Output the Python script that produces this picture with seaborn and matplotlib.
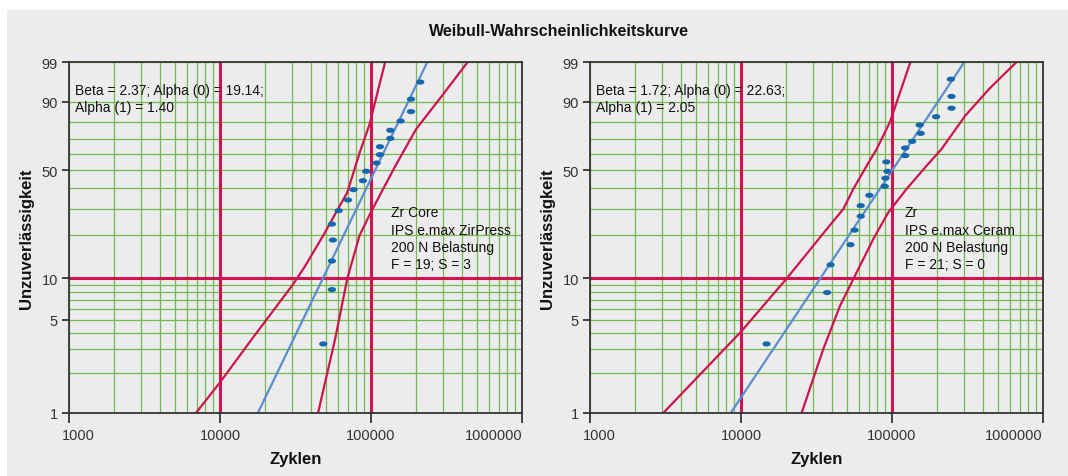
import numpy as np
import matplotlib
matplotlib.use('Agg')
import matplotlib.pyplot as plt
import seaborn as sns
from matplotlib.path import Path
from matplotlib.patches import Rectangle
from matplotlib.ticker import FixedLocator, NullFormatter
from matplotlib.transforms import ScaledTranslation

sns.set_style('white')
plt.rcParams['font.family'] = ['Liberation Sans', 'DejaVu Sans']

BG = '#ebeceb'
GREEN = '#74b94f'
RED = '#cc1450'
BLUE = '#5b8dd2'
DOT = '#1668ad'
DARK = '#333333'

TITLE = 'Weibull-Wahrscheinlichkeitskurve'
X_LABEL = 'Zyklen'
Y_LABEL = 'Unzuverlässigkeit'

X_MAJOR = [1000, 10000, 100000, 1000000]
X_MAJOR_LABELS = ['1000', '10000', '100000', '1000000']
Y_MAJOR = [1, 5, 10, 50, 90, 99]
Y_MINOR = [2, 3, 4, 6, 7, 8, 9, 20, 30, 40, 60, 70, 80]

# left panel: Zr Core, IPS e.max ZirPress
left_beta = 2.37
left_eta = 124000
left_cycles = [211800, 184000, 184000, 157000, 134200, 134200, 114600, 114600, 108800, 93000,
               88400, 76600, 70400, 61100, 55100, 55900, 55100, 55100, 48300]
left_pct = [96.1, 91.0, 85.6, 80.7, 75.3, 70.3, 65.0, 59.9, 54.6, 49.5,
            44.0, 39.1, 33.9, 29.1, 23.8, 18.6, 13.3, 8.3, 3.3]
left_band_a_x = [6930, 10000, 16900, 30100, 36200, 48300, 69700, 84000, 98000, 110500, 124100]
left_band_a_pct = [1, 1.7, 3.8, 8.9, 12, 20, 37.7, 61, 79, 93.4, 99]
left_band_b_x = [44600, 57900, 69700, 84000, 100000, 114000, 145200, 199000, 295000, 437000]
left_band_b_pct = [1, 3.6, 10, 20, 28.5, 36, 52.9, 76, 92.2, 99]
left_stats = 'Beta = 2.37; Alpha (0) = 19.14;\nAlpha (1) = 1.40'
left_info = 'Zr Core\nIPS e.max ZirPress\n200 N Belastung\nF = 19; S = 3'

# right panel: Zr, IPS e.max Ceram
right_beta = 1.72
right_eta = 124000
right_cycles = [245200, 247900, 247900, 195900, 152400, 154900, 135900, 122300, 122300, 91800,
                93300, 90400, 89500, 70800, 62100, 62100, 56500, 53100, 39200, 37200, 14760]
right_pct = [96.7, 92.0, 87.2, 83.0, 78.4, 73.4, 68.4, 64.2, 59.3, 55.3,
             49.5, 45.4, 40.9, 36.2, 31.3, 26.8, 21.7, 17.3, 12.5, 7.9, 3.3]
right_band_a_x = [3055, 10000, 20100, 36900, 47600, 55500, 68000, 79300, 96800, 113200, 132400]
right_band_a_pct = [1, 4.07, 10, 22.0, 29.8, 39.5, 52.9, 63.6, 80, 93.4, 99]
right_band_b_x = [25200, 35100, 45300, 58400, 75200, 94600, 125000, 169500, 213300, 305300, 440600, 668000]
right_band_b_pct = [1, 3.03, 6.33, 11.07, 18.9, 28.4, 39.5, 52.9, 63.6, 83.5, 94.4, 99]
right_stats = 'Beta = 1.72; Alpha (0) = 22.63;\nAlpha (1) = 2.05'
right_info = 'Zr\nIPS e.max Ceram\n200 N Belastung\nF = 21; S = 0'


def weib_fwd(p):
    p = np.clip(np.asarray(p, dtype=float) / 100.0, 1e-9, 1 - 1e-9)
    return np.log(-np.log(1 - p))


def weib_inv(w):
    return 100.0 * (1 - np.exp(-np.exp(np.asarray(w, dtype=float))))


def fit_line(beta, eta, pct=(1, 99)):
    p = np.asarray(pct, dtype=float) / 100.0
    return eta * (-np.log(1 - p)) ** (1.0 / beta), np.asarray(pct, dtype=float)


t = np.linspace(0, 2 * np.pi, 41)
DOT_MARKER = Path(np.column_stack([np.cos(t), 0.62 * np.sin(t)]), closed=True)


def draw_panel(ax, beta, eta, cycles, pct, a_x, a_pct, b_x, b_pct, stats, info, info_x):
    ax.set_facecolor(BG)
    ax.set_xscale('log')
    ax.set_yscale('function', functions=(weib_fwd, weib_inv))

    fx, fy = fit_line(beta, eta)
    sns.lineplot(x=a_x, y=a_pct, sort=False, estimator=None, color=RED, lw=1.6, ax=ax, zorder=4)
    sns.lineplot(x=b_x, y=b_pct, sort=False, estimator=None, color=RED, lw=1.6, ax=ax, zorder=4)
    sns.lineplot(x=fx, y=fy, sort=False, estimator=None, color=BLUE, lw=1.6, ax=ax, zorder=4)
    sns.scatterplot(x=cycles, y=pct, marker=DOT_MARKER, s=36, color=DOT, edgecolor='none',
                    linewidth=0, ax=ax, zorder=5)

    ax.set_xlim(1000, 1000000)
    ax.set_ylim(1, 99)

    ax.xaxis.set_major_locator(FixedLocator(X_MAJOR))
    ax.xaxis.set_minor_locator(FixedLocator([m * d for d in (1000, 10000, 100000) for m in range(2, 10)]))
    ax.xaxis.set_minor_formatter(NullFormatter())
    ax.set_xticklabels(X_MAJOR_LABELS)
    ax.yaxis.set_major_locator(FixedLocator(Y_MAJOR))
    ax.yaxis.set_minor_locator(FixedLocator(Y_MINOR))
    ax.yaxis.set_minor_formatter(NullFormatter())
    ax.set_yticklabels([str(v) for v in Y_MAJOR])

    ax.grid(True, which='both', color=GREEN, lw=0.9)
    ax.set_axisbelow(True)
    ax.axvline(10000, color=RED, lw=2.2, zorder=2)
    ax.axvline(100000, color=RED, lw=2.2, zorder=2)
    ax.axhline(10, color=RED, lw=2.2, zorder=2)

    ax.tick_params(which='major', direction='out', length=5, width=1.3, color=DARK,
                   labelsize=10.5, labelcolor=DARK, pad=3, left=True, bottom=True)
    ax.tick_params(axis='x', which='major', length=7, pad=4)
    ax.tick_params(which='minor', length=0)
    tick_colors = {5: GREEN, 10: RED, 50: GREEN, 90: GREEN}
    for val, tk in zip(Y_MAJOR, ax.yaxis.get_major_ticks()):
        if val in tick_colors:
            tk.tick1line.set_color(tick_colors[val])

    # first and last x labels sit inside the frame, as in the original
    xlabels = ax.get_xticklabels()
    xlabels[0].set_horizontalalignment('left')
    xlabels[0].set_transform(xlabels[0].get_transform()
                             + ScaledTranslation(-7 / 100, 0, ax.figure.dpi_scale_trans))
    xlabels[-1].set_horizontalalignment('right')

    for sp in ax.spines.values():
        sp.set_color(DARK)
        sp.set_linewidth(1.3)
        sp.set_zorder(6)

    ax.set_xlabel(X_LABEL, fontsize=12, fontweight='bold', color='#111111')
    ax.set_ylabel(Y_LABEL, fontsize=12, fontweight='bold', color='#111111')
    ax.xaxis.set_label_coords(0.5, -0.108)
    ax.yaxis.set_label_coords(-0.077, 0.5)

    ax.text(0.013, 0.94, stats, transform=ax.transAxes, va='top', ha='left',
            fontsize=10, color='#111111', linespacing=1.3, zorder=7)
    ax.text(info_x, 0.592, info, transform=ax.transAxes, va='top', ha='left',
            fontsize=10, color='#111111', linespacing=1.3, zorder=7)


fig = plt.figure(figsize=(10.68, 4.77), dpi=100, facecolor='white')
fig.patches.append(Rectangle((7 / 1068, 0), 1, 1 - 11 / 477, transform=fig.transFigure,
                             facecolor=BG, edgecolor='none', zorder=-10))

ax_l = fig.add_axes([69 / 1068, 63 / 477, 453 / 1068, 351 / 477])
ax_r = fig.add_axes([590 / 1068, 63 / 477, 453 / 1068, 351 / 477])

draw_panel(ax_l, left_beta, left_eta, left_cycles, left_pct,
           left_band_a_x, left_band_a_pct, left_band_b_x, left_band_b_pct,
           left_stats, left_info, 0.71)
draw_panel(ax_r, right_beta, right_eta, right_cycles, right_pct,
           right_band_a_x, right_band_a_pct, right_band_b_x, right_band_b_pct,
           right_stats, right_info, 0.695)

fig.text(559 / 1068, 1 - 31.5 / 477, TITLE, ha='center', va='center',
         fontsize=11.5, fontweight='bold', color='#111111')

fig.savefig('out.png', dpi=100)
